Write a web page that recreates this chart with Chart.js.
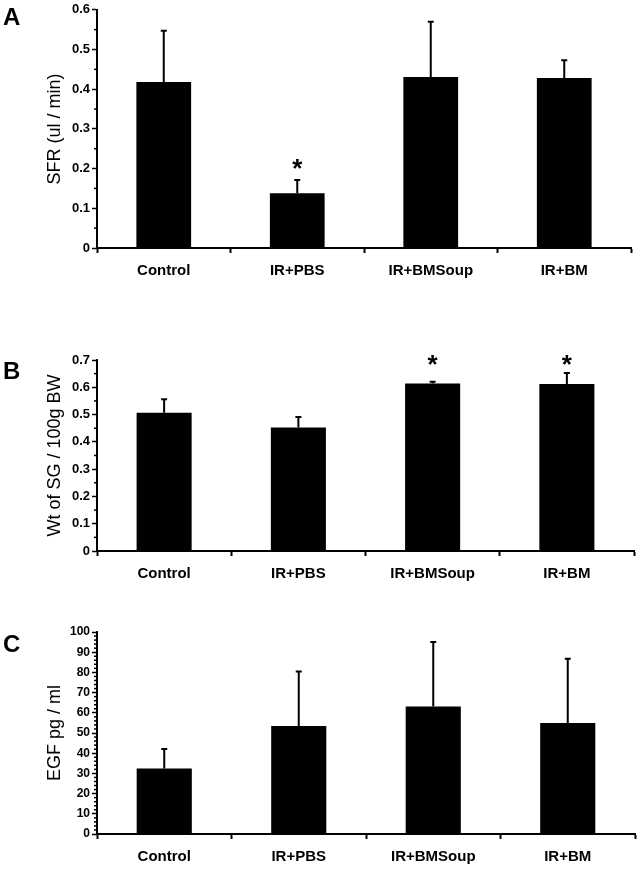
<!DOCTYPE html>
<html>
<head>
<meta charset="utf-8">
<script src="https://cdn.jsdelivr.net/npm/chart.js@4/dist/chart.umd.min.js"></script>
<style>
  html, body { margin: 0; padding: 0; background: #fff; }
  #wrap { position: relative; width: 641px; height: 869px; overflow: hidden; }
  .panel { position: absolute; left: 0; width: 641px; }
  .letter {
    position: absolute; left: 3px;
    font: bold 24px "Liberation Sans", Arial, sans-serif; line-height: 24px; color: #000;
  }
</style>
</head>
<body>
<div id="wrap">
  <div class="panel" style="top:0;height:285px"><canvas id="chartA" width="641" height="285"></canvas></div>
  <div class="panel" style="top:285px;height:300px"><canvas id="chartB" width="641" height="300"></canvas></div>
  <div class="panel" style="top:585px;height:284px"><canvas id="chartC" width="641" height="284"></canvas></div>
  <div class="letter" style="top:5px">A</div>
  <div class="letter" style="top:359px">B</div>
  <div class="letter" style="top:632px">C</div>
</div>
<script>
const categories = ['Control', 'IR+PBS', 'IR+BMSoup', 'IR+BM'];

// A: saliva flow rate
const sfrMean = [0.418, 0.138, 0.431, 0.428];
const sfrErr = [0.129, 0.033, 0.139, 0.045];
const sfrStar = [null, 0.215, null, null];
const sfrAxis = [0, 0.6, 0.1, 0.05]; // min, max, step, minor

// B: gland weight
const wtMean = [0.507, 0.453, 0.614, 0.612];
const wtErr = [0.049, 0.038, 0.006, 0.040];
const wtStar = [null, null, 0.707, 0.707];
const wtAxis = [0, 0.7, 0.1, 0.05];

// C: EGF
const egfMean = [32.4, 53.5, 63.1, 54.9];
const egfErr = [9.7, 27.0, 31.9, 31.9];
const egfStar = [null, null, null, null];
const egfAxis = [0, 100, 10, 2];

const FONT = '"Liberation Sans", Arial, sans-serif';

function makePanel(id, title, mean, err, star, axis, lay) {
  const [min, max, step, minor] = axis;

  const extras = {
    id: 'extras_' + id,
    afterDatasetsDraw(chart) {
      const ctx = chart.ctx;
      const y = chart.scales.y;
      const meta = chart.getDatasetMeta(0);
      ctx.save();
      ctx.strokeStyle = '#000';
      ctx.fillStyle = '#000';
      ctx.lineWidth = 2;
      meta.data.forEach((bar, i) => {
        const top = y.getPixelForValue(mean[i] + err[i]);
        ctx.beginPath();
        ctx.moveTo(bar.x, bar.y);
        ctx.lineTo(bar.x, top);
        ctx.moveTo(bar.x - 3, top);
        ctx.lineTo(bar.x + 3, top);
        ctx.stroke();
        if (star[i] != null) {
          const size = 26;
          ctx.font = 'bold ' + size + 'px ' + FONT;
          ctx.textAlign = 'center';
          ctx.textBaseline = 'alphabetic';
          ctx.fillText('*', bar.x, y.getPixelForValue(star[i]) + size * 0.57);
        }
      });
      // minor ticks on the value axis
      const n = Math.round((max - min) / minor);
      const every = Math.round(step / minor);
      const ax = chart.chartArea.left;
      ctx.lineWidth = 1.5;
      for (let k = 0; k <= n; k++) {
        if (k % every === 0) continue;
        const py = y.getPixelForValue(min + k * minor);
        ctx.beginPath();
        ctx.moveTo(ax - 3, py);
        ctx.lineTo(ax, py);
        ctx.stroke();
      }
      ctx.restore();
    }
  };

  return new Chart(document.getElementById(id), {
    type: 'bar',
    data: {
      labels: categories,
      datasets: [{
        data: mean,
        backgroundColor: '#000',
        borderWidth: 0,
        categoryPercentage: 1,
        barPercentage: 0.41,
      }],
    },
    options: {
      responsive: false,
      animation: false,
      layout: { padding: { top: lay.top, right: lay.right, left: 0, bottom: 0 } },
      plugins: { legend: { display: false }, tooltip: { enabled: false } },
      scales: {
        x: {
          afterFit: (s) => { s.height = lay.xh; },
          grid: { offset: true, drawOnChartArea: false, tickLength: 5, tickColor: '#000', tickWidth: 2 },
          border: { color: '#000', width: 2 },
          ticks: { color: '#000', padding: 9, font: { family: FONT, size: 15, weight: 'bold' }, maxRotation: 0 },
        },
        y: {
          min: min,
          max: max,
          afterFit: (s) => { s.width = 97; },
          grid: { drawOnChartArea: false, tickLength: 5, tickColor: '#000', tickWidth: 1.5 },
          border: { color: '#000', width: 2 },
          ticks: { stepSize: step, color: '#000', padding: 2, font: { family: FONT, size: lay.tick, weight: 'bold' } },
          title: {
            display: true,
            text: title,
            color: '#000',
            padding: { top: 44, bottom: 0 },
            font: { family: FONT, size: 18, weight: 'normal' },
          },
        },
      },
    },
    plugins: [extras],
  });
}

makePanel('chartA', 'SFR (ul / min)', sfrMean, sfrErr, sfrStar, sfrAxis, { top: 8, right: 10, xh: 37, tick: 13 });
makePanel('chartB', 'Wt of SG / 100g BW', wtMean, wtErr, wtStar, wtAxis, { top: 75, right: 7, xh: 34, tick: 13 });
makePanel('chartC', 'EGF pg / ml', egfMean, egfErr, egfStar, egfAxis, { top: 47, right: 6, xh: 35, tick: 12 });
</script>
</body>
</html>
